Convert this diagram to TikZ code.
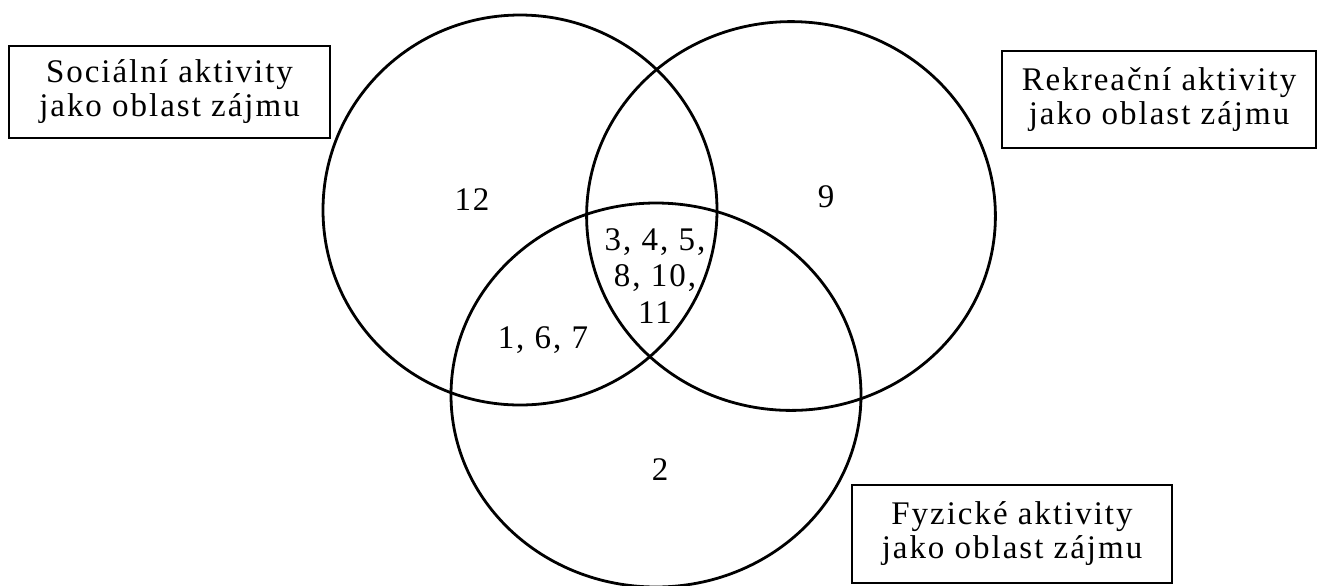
\documentclass[tikz,border=0pt]{standalone}
\usepackage{fontspec}
\setmainfont{Liberation Serif}[LetterSpace=6.0]
\usetikzlibrary{positioning}

\begin{document}
\begin{tikzpicture}[x=0.5pt, y=-0.5pt,
  mnozina/.style={line width=1.4pt},
  oblast/.style={draw, line width=0.7pt, align=center, inner sep=0pt,
    font=\fontsize{16.5}{17}\selectfont},
  pocet/.style={align=center, inner sep=0pt, font=\fontsize{16.5}{18.25}\selectfont}]
  \useasboundingbox (0,0) rectangle (1317,585);
  % tri mnoziny
  \coordinate (socS) at (520,210);
  \coordinate (rekS) at (791,216);
  \coordinate (fyzS) at (656,395);
  \draw[mnozina] (socS) ellipse [x radius=98.5pt, y radius=97.5pt];
  \draw[mnozina] (rekS) ellipse [x radius=102.2pt, y radius=97.2pt];
  \draw[mnozina] (fyzS) ellipse [x radius=102.5pt, y radius=96pt];
  % popisky oblasti
  \node[oblast, minimum width=160.5pt, minimum height=46pt] (soc) at (169.5,92)
    {Sociální aktivity\\jako oblast zájmu};
  \node[oblast, minimum width=157pt, minimum height=48.5pt] (rek) at (1159,99.5)
    {Rekreační aktivity\\jako oblast zájmu};
  \node[oblast, minimum width=160pt, minimum height=49pt] (fyz) at (1012,534)
    {Fyzické aktivity\\jako oblast zájmu};
  % cisla v prunicich
  \node[pocet] (n12) at (472,200) {12};
  \node[pocet] (n9) at (826,197) {9};
  \node[pocet] (nStred) at (655,276) {3, 4, 5,\\8, 10,\\11};
  \node[pocet] (n167) at (543,340) {1, 6, 7};
  \node[pocet] (n2) at (660,470) {2};
\end{tikzpicture}
\end{document}
